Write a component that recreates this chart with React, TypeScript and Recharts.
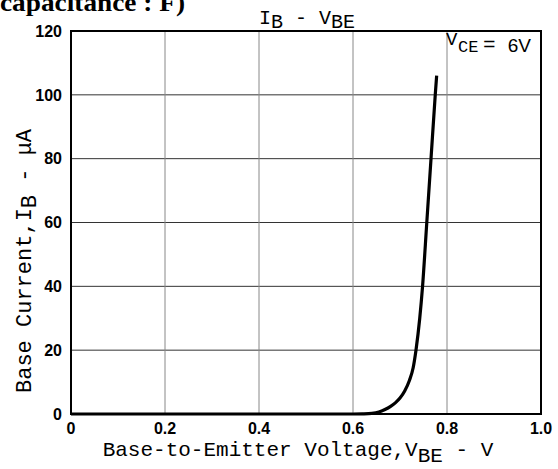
import React from "react";
import {
  LineChart,
  Line,
  XAxis,
  YAxis,
  CartesianGrid,
  ReferenceArea,
  Customized,
} from "recharts";

// Base-to-emitter voltage (V)
const vbe = [0, 0.1, 0.2, 0.3, 0.4, 0.5, 0.6, 0.62, 0.64, 0.655, 0.668, 0.68, 0.69, 0.7, 0.71, 0.72, 0.728, 0.734, 0.742, 0.748, 0.757, 0.766, 0.775, 0.778];
// Base current (uA)
const ib = [0, 0, 0, 0, 0, 0, 0, 0.05, 0.2, 0.6, 1.4, 2.4, 3.5, 5.0, 7.2, 10.5, 14.5, 20, 30, 40, 60, 80, 100, 106];

const xTicks = [0, 0.2, 0.4, 0.6, 0.8, 1.0];
const xTickLabels = ["0", "0.2", "0.4", "0.6", "0.8", "1.0"];
const yTicks = [0, 20, 40, 60, 80, 100, 120];
const yTickLabels = ["0", "20", "40", "60", "80", "100", "120"];

const data = vbe.map((v, i) => ({ v, ib: ib[i] }));

const mono = "'Liberation Mono', 'DejaVu Sans Mono', monospace";
const tickFont = { fontFamily: "'Liberation Sans', Arial, sans-serif", fontWeight: 700, fontSize: 16, fill: "#000" };

const Texts = () => (
  <g>
    <text x={0} y={11} fontFamily="'Liberation Serif', serif" fontWeight={700} fontSize={25} fill="#000" textLength={185} lengthAdjust="spacingAndGlyphs">
      capacitance : F)
    </text>
    <text x={307} y={24} textAnchor="middle" fontFamily={mono} fontSize={20} fill="#000">
      <tspan>I</tspan>
      <tspan dy={4}>B</tspan>
      <tspan dy={-4}> - V</tspan>
      <tspan dy={4}>BE</tspan>
    </text>
    <text x={446} y={45} fontFamily={mono} fontSize={19} fill="#000">V</text>
    <text x={458} y={52} fontFamily={mono} fontSize={17} fill="#000">CE</text>
    <text x={483} y={51} fontFamily={mono} fontSize={21} fill="#000">=</text>
    <text x={531} y={52} textAnchor="end" fontFamily="'Liberation Sans', Arial, sans-serif" fontSize={19} fill="#000">6V</text>
    <text x={298} y={456} textAnchor="middle" fontFamily={mono} fontSize={21} fill="#000">
      <tspan>Base-to-Emitter Voltage,V</tspan>
      <tspan dy={6}>BE</tspan>
      <tspan dy={-6}> - V</tspan>
    </text>
    <text x={31} y={393} textAnchor="start" transform="rotate(-90 31 393)" fontFamily={mono} fontSize={22} fill="#000">
      <tspan>Base Current,I</tspan>
      <tspan dy={5}>B</tspan>
      <tspan dy={-5}> - μA</tspan>
    </text>
  </g>
);

export default function App() {
  return (
    <div style={{ position: "absolute", left: 0, top: 0, background: "#fff" }}>
      <LineChart width={558} height={469} data={data} margin={{ top: 31, right: 17, bottom: 0, left: 0 }}>
        <CartesianGrid vertical={false} stroke="#333" strokeWidth={1} horizontalValues={yTicks} />
        <CartesianGrid horizontal={false} stroke="#888" strokeWidth={1} verticalValues={xTicks} />
        <XAxis
          dataKey="v"
          type="number"
          domain={[0, 1]}
          ticks={xTicks}
          tickFormatter={(t: number) => xTickLabels[xTicks.indexOf(t)] ?? String(t)}
          height={55}
          tickSize={0}
          tickMargin={9}
          axisLine={false}
          tickLine={false}
          tick={tickFont}
          interval={0}
        />
        <YAxis
          type="number"
          domain={[0, 120]}
          ticks={yTicks}
          tickFormatter={(t: number) => yTickLabels[yTicks.indexOf(t)] ?? String(t)}
          width={71}
          tickSize={0}
          tickMargin={9}
          axisLine={false}
          tickLine={false}
          tick={tickFont}
          interval={0}
        />
        <ReferenceArea x1={0} x2={1} y1={0} y2={120} fill="none" stroke="#000" strokeWidth={2} ifOverflow="visible" />
        <Line
          dataKey="ib"
          type="monotone"
          stroke="#000"
          strokeWidth={3.2}
          dot={false}
          isAnimationActive={false}
        />
        <Customized component={Texts} />
      </LineChart>
    </div>
  );
}
